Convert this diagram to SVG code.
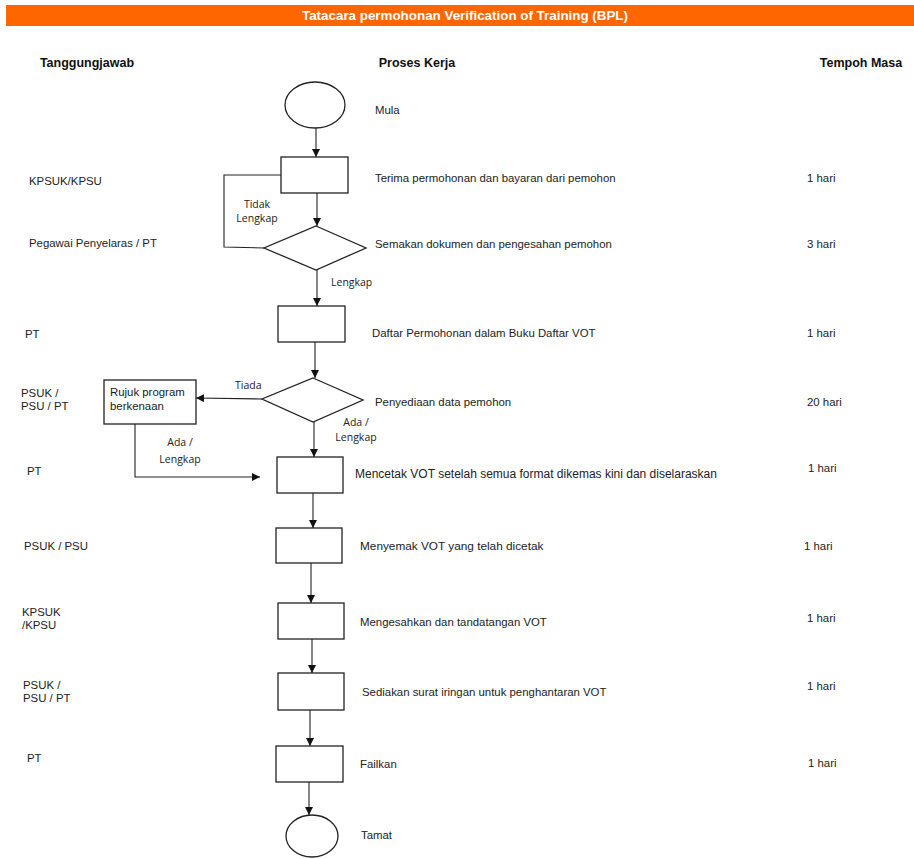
<svg xmlns="http://www.w3.org/2000/svg" width="914" height="859" viewBox="0 0 914 859">
<defs>
<marker id="ah" markerWidth="9" markerHeight="8" refX="8" refY="4" orient="auto" markerUnits="userSpaceOnUse">
<path d="M0,0 L8,4 L0,8 Z" fill="#111"/>
</marker>
<style>
.shape{fill:#fff;stroke:#222;stroke-width:1.3}
.conn{fill:none;stroke:#222;stroke-width:1.1}
.t{font-family:"Liberation Sans",Arial,sans-serif;font-size:11.4px;fill:#222}
.h{font-family:"Liberation Sans",Arial,sans-serif;font-size:12.5px;font-weight:bold;fill:#111}
.c{font-family:"Open Sans","Noto Sans",sans-serif;font-size:10.5px;fill:#222}
</style>
</defs>
<rect width="914" height="859" fill="#fff"/>
<g id="title">
<rect x="6" y="5" width="908" height="21" fill="#ff6600"/>
<text x="465" y="20" text-anchor="middle" font-family="'Liberation Sans Narrow','Liberation Sans',Arial,sans-serif" font-size="12.5" font-weight="bold" fill="#fff" textLength="326" lengthAdjust="spacingAndGlyphs">Tatacara permohonan Verification of Training (BPL)</text>
</g>
<g id="headers">
<text class="h" x="87" y="67" text-anchor="middle">Tanggungjawab</text>
<text class="h" x="417" y="67" text-anchor="middle">Proses Kerja</text>
<text class="h" x="861" y="67" text-anchor="middle">Tempoh Masa</text>
</g>
<g id="connectors">
<line class="conn" x1="316" y1="127" x2="316" y2="157" marker-end="url(#ah)"/>
<line class="conn" x1="317" y1="193" x2="317" y2="226" marker-end="url(#ah)"/>
<polyline class="conn" points="264,248 224,247 224,175 290,175" marker-end="url(#ah)"/>
<line class="conn" x1="317" y1="270" x2="317" y2="306" marker-end="url(#ah)"/>
<line class="conn" x1="315" y1="342" x2="315" y2="378" marker-end="url(#ah)"/>
<line class="conn" x1="262" y1="399" x2="196" y2="398" marker-end="url(#ah)"/>
<line class="conn" x1="314" y1="422" x2="314" y2="457" marker-end="url(#ah)"/>
<polyline class="conn" points="135,424 135,477 260,477" marker-end="url(#ah)"/>
<line class="conn" x1="313" y1="493" x2="313" y2="528" marker-end="url(#ah)"/>
<line class="conn" x1="311" y1="563" x2="311" y2="603" marker-end="url(#ah)"/>
<line class="conn" x1="312" y1="639" x2="312" y2="673" marker-end="url(#ah)"/>
<line class="conn" x1="310" y1="710" x2="310" y2="746" marker-end="url(#ah)"/>
<line class="conn" x1="309" y1="782" x2="309" y2="815" marker-end="url(#ah)"/>
<text class="c" x="257" y="208" text-anchor="middle">Tidak</text>
<text class="c" x="257" y="222" text-anchor="middle">Lengkap</text>
<text class="c" x="331" y="286">Lengkap</text>
<text class="c" x="235" y="389">Tiada</text>
<text class="c" x="356" y="426" text-anchor="middle">Ada /</text>
<text class="c" x="356" y="441" text-anchor="middle">Lengkap</text>
<text class="c" x="180" y="446" text-anchor="middle">Ada /</text>
<text class="c" x="180" y="463" text-anchor="middle">Lengkap</text>
</g>
<g id="mula">
<ellipse class="shape" cx="315" cy="105" rx="30" ry="23"/>
<text class="t" x="375" y="114">Mula</text>
</g>
<g id="terima">
<rect class="shape" x="281" y="157" width="67" height="36"/>
<text class="t" x="375" y="182">Terima permohonan dan bayaran dari pemohon</text>
<text class="t" x="29" y="185">KPSUK/KPSU</text>
<text class="t" x="807" y="182">1 hari</text>
</g>
<g id="semakan">
<polygon class="shape" points="316,226 366,248 316,270 264,248"/>
<text class="t" x="375" y="248">Semakan dokumen dan pengesahan pemohon</text>
<text class="t" x="29" y="247">Pegawai Penyelaras / PT</text>
<text class="t" x="807" y="248">3 hari</text>
</g>
<g id="daftar">
<rect class="shape" x="278" y="306" width="67" height="36"/>
<text class="t" x="372" y="337">Daftar Permohonan dalam Buku Daftar VOT</text>
<text class="t" x="25" y="338">PT</text>
<text class="t" x="807" y="337">1 hari</text>
</g>
<g id="penyediaan">
<polygon class="shape" points="313,378 363,400 313,422 262,399"/>
<text class="t" x="375" y="406">Penyediaan data pemohon</text>
<text class="t" x="21" y="397">PSUK /</text>
<text class="t" x="21" y="410">PSU / PT</text>
<text class="t" x="807" y="406">20 hari</text>
</g>
<g id="rujuk">
<rect class="shape" x="104" y="380" width="92" height="44"/>
<text class="t" x="110" y="396">Rujuk program</text>
<text class="t" x="110" y="410">berkenaan</text>
</g>
<g id="mencetak">
<rect class="shape" x="277" y="457" width="66" height="36"/>
<text class="t" x="355" y="478" style="font-size:12px">Mencetak VOT setelah semua format dikemas kini dan diselaraskan</text>
<text class="t" x="27" y="475">PT</text>
<text class="t" x="808" y="472">1 hari</text>
</g>
<g id="menyemak">
<rect class="shape" x="276" y="528" width="66" height="35"/>
<text class="t" x="360" y="550" style="font-size:11.8px">Menyemak VOT yang telah dicetak</text>
<text class="t" x="24" y="550">PSUK / PSU</text>
<text class="t" x="804" y="550">1 hari</text>
</g>
<g id="mengesahkan">
<rect class="shape" x="278" y="603" width="66" height="36"/>
<text class="t" x="360" y="626">Mengesahkan dan tandatangan VOT</text>
<text class="t" x="22" y="616">KPSUK</text>
<text class="t" x="22" y="629">/KPSU</text>
<text class="t" x="807" y="622">1 hari</text>
</g>
<g id="sediakan">
<rect class="shape" x="278" y="673" width="66" height="37"/>
<text class="t" x="362" y="696">Sediakan surat iringan untuk penghantaran VOT</text>
<text class="t" x="23" y="689">PSUK /</text>
<text class="t" x="23" y="702">PSU / PT</text>
<text class="t" x="807" y="690">1 hari</text>
</g>
<g id="failkan">
<rect class="shape" x="276" y="746" width="67" height="36"/>
<text class="t" x="360" y="768">Failkan</text>
<text class="t" x="27" y="762">PT</text>
<text class="t" x="808" y="767">1 hari</text>
</g>
<g id="tamat">
<ellipse class="shape" cx="312" cy="836" rx="26" ry="21"/>
<text class="t" x="361" y="839">Tamat</text>
</g>
</svg>
